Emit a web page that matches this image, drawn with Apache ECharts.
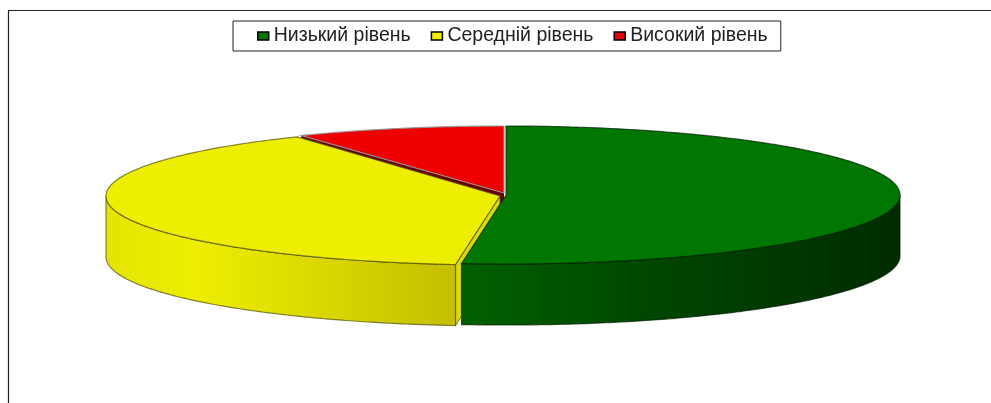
<!DOCTYPE html>
<html><head><meta charset="utf-8">
<style>html,body{margin:0;padding:0;background:#fff}#c{width:991px;height:403px}</style>
<script src="https://cdn.jsdelivr.net/npm/echarts@6/dist/echarts.min.js"></script>
</head><body><div id="c"></div>
<script>
const categories = ['Низький рівень', 'Середній рівень', 'Високий рівень'];
const values = [51.8, 39.6, 8.6];

const total = values.reduce((a, b) => a + b, 0);
const RX = 394, DEPTH = 61;
const styles = [
  { color: '#007700', cx: 506, cy: 195, ry: 69, stroke: 'rgba(0,30,0,0.7)',
    wall: [[0, '#006000'], [0.5, '#004300'], [1, '#002c00']], face: '#004000' },
  { color: '#eeee00', cx: 500, cy: 196, ry: 69, stroke: 'rgba(70,70,0,0.65)',
    wall: [[0, '#e4e400'], [0.25, '#eeee00'], [0.55, '#dedc00'], [1, '#c4be00']], face: '#dcdc00' },
  { color: '#ee0000', cx: 504, cy: 193, ry: 67, stroke: 'rgba(150,150,150,0.9)',
    wall: [[0, '#700000'], [1, '#700000']], face: '#6a0000' }
];
function pt(s, a, dy) {
  return [s.cx + RX * Math.sin(a), s.cy - s.ry * Math.cos(a) + (dy || 0)];
}
function arc(s, a0, a1, dy) {
  const out = [], n = Math.max(2, Math.ceil(Math.abs(a1 - a0) / 0.01));
  for (let i = 0; i <= n; i++) out.push(pt(s, a0 + (a1 - a0) * i / n, dy));
  return out;
}
function sliceItem(index) {
  return function (params, api) {
    let before = 0;
    for (let i = 0; i < index; i++) before += values[i];
    const a0 = before / total * Math.PI * 2;
    const a1 = (before + api.value(0)) / total * Math.PI * 2;
    const s = styles[index], ch = [];
    const centre = [s.cx, s.cy];
    if (index === 1) {
      const p = pt(s, a0);
      ch.push({ type: 'polygon', shape: { points: [centre, p, [p[0], p[1] + DEPTH], [s.cx, s.cy + DEPTH]] },
        style: { fill: s.face, stroke: 'rgba(70,70,0,0.7)', lineWidth: 1 } });
    }
    if (index === 2) {
      const p = pt(s, a0);
      ch.push({ type: 'polygon', shape: { points: [centre, p, [p[0], p[1] + DEPTH], [s.cx, s.cy + DEPTH]] },
        style: { fill: s.face } });
    }
    const w0 = Math.max(a0, Math.PI / 2), w1 = Math.min(a1, Math.PI * 1.5);
    if (w1 > w0) {
      const top = arc(s, w0, w1), bot = arc(s, w1, w0, DEPTH);
      ch.push({ type: 'polygon', shape: { points: top.concat(bot) },
        style: {
          fill: new echarts.graphic.LinearGradient(0, 0, 1, 0,
            s.wall.map(w => ({ offset: w[0], color: w[1] }))),
          stroke: s.stroke, lineWidth: 1.2
        } });
    }
    ch.push({ type: 'polygon', shape: { points: [centre].concat(arc(s, a0, a1)) },
      style: { fill: s.color, stroke: s.stroke, lineWidth: 1.2 } });
    return { type: 'group', children: ch };
  };
}
const chart = echarts.init(document.getElementById('c'), null, { renderer: 'canvas' });
const drawOrder = [2, 1, 0];
chart.setOption({
  animation: false,
  backgroundColor: '#fff',
  legend: {
    data: categories, left: 233, top: 21, orient: 'horizontal',
    icon: 'rect', itemWidth: 11, itemHeight: 8, itemGap: 20,
    padding: [5, 13, 5, 24], borderColor: '#222', borderWidth: 1,
    itemStyle: { borderColor: '#000', borderWidth: 1.5 },
    textStyle: { fontFamily: 'Liberation Sans', fontSize: 19.5, color: '#222' }
  },
  graphic: [
    { type: 'line', silent: true, shape: { x1: 8.5, y1: 11, x2: 8.5, y2: 403 }, style: { stroke: '#222', lineWidth: 1.2 } },
    { type: 'line', silent: true, shape: { x1: 8, y1: 10.5, x2: 991, y2: 10.5 }, style: { stroke: '#222', lineWidth: 1.2 } }
  ],
  series: drawOrder.map(i => ({
    type: 'custom', name: categories[i], coordinateSystem: 'none',
    itemStyle: { color: styles[i].color },
    renderItem: sliceItem(i),
    data: [[values[i]]]
  }))
});
</script></body></html>
